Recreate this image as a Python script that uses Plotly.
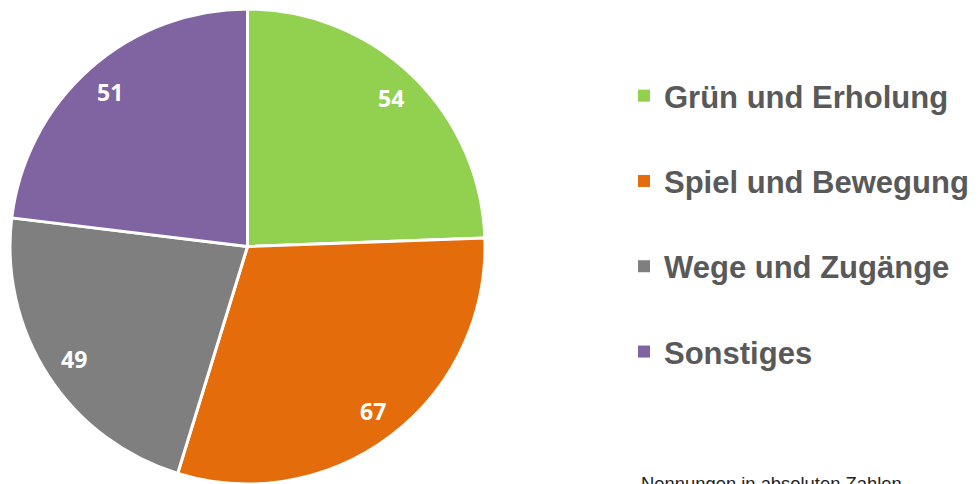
import math
import plotly.graph_objects as go

categories = ["Grün und Erholung", "Spiel und Bewegung", "Wege und Zugänge", "Sonstiges"]
values = [54, 67, 49, 51]
colors = ["#92D050", "#E46C0A", "#7F7F7F", "#8064A2"]
footnote = "Nennungen in absoluten Zahlen"

W, H = 979, 484
cx_px, cy_px, r_px = 247.5, 246.5, 237.5
dom_x = [(cx_px - r_px) / W, (cx_px + r_px) / W]
dom_y = [max(0, 1 - (cy_px + r_px) / H), 1 - (cy_px - r_px) / H]

fig = go.Figure()
fig.add_trace(go.Pie(
    labels=categories, values=values, sort=False, direction="clockwise", rotation=0,
    marker=dict(colors=colors, line=dict(color="white", width=3)),
    textinfo="none", showlegend=False, domain=dict(x=dom_x, y=dom_y),
    hoverinfo="label+value",
))

# legend entries
for cat, col in zip(categories, colors):
    fig.add_trace(go.Scatter(
        x=[None], y=[None], mode="markers", name=cat, legendgroup=cat,
        marker=dict(symbol="square", size=12, color=col),
    ))

# value labels placed along slice mid-angles
total = sum(values)
cum = 0
annotations = []
for v in values:
    mid = (cum + v / 2) / total * 2 * math.pi
    cum += v
    rr = 0.87 * r_px
    x = cx_px + rr * math.sin(mid)
    y = cy_px - rr * math.cos(mid)
    annotations.append(dict(
        x=x / W, y=1 - y / H, xref="paper", yref="paper", text=str(v), showarrow=False,
        xanchor="center", yanchor="middle",
        font=dict(family="Open Sans", size=23, color="white", weight="bold"),
    ))
annotations.append(dict(
    x=639 / W, y=1 - 471 / H, xref="paper", yref="paper", xanchor="left", yanchor="top",
    text=footnote, showarrow=False,
    font=dict(family="Liberation Sans, Arial", size=18.4, color="#222222"),
))

fig.update_layout(
    width=W, height=H, margin=dict(l=0, r=0, t=0, b=0),
    paper_bgcolor="white", plot_bgcolor="white",
    xaxis=dict(visible=False), yaxis=dict(visible=False),
    legend=dict(
        x=624 / W, y=1 - 69 / H, xanchor="left", yanchor="top",
        font=dict(family="Liberation Sans, Arial", size=31, color="#595959", weight="bold"),
        tracegroupgap=42, bgcolor="rgba(0,0,0,0)",
    ),
    annotations=annotations,
)
fig.write_html("out.html", config={"displayModeBar": False},
               post_script="document.body.style.margin='0';")
